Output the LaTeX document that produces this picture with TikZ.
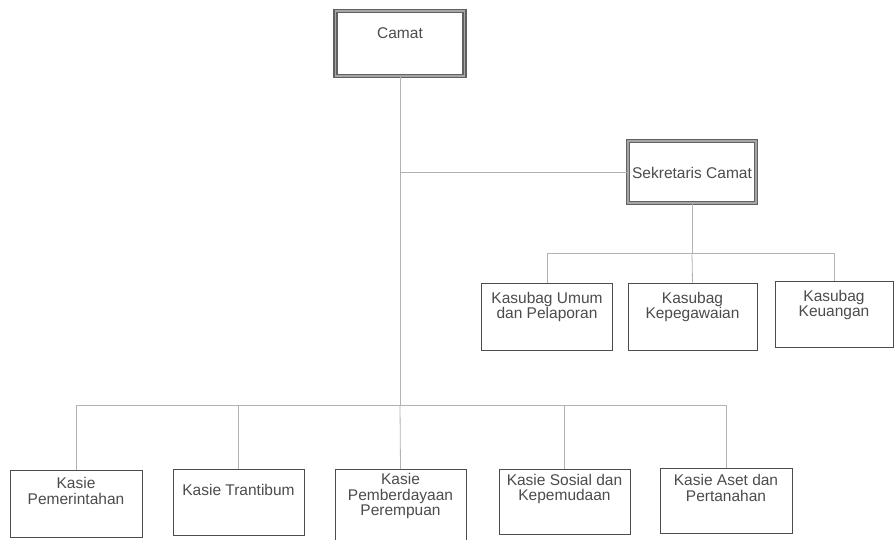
\documentclass[tikz,border=0pt]{standalone}
\usepackage{fontspec}
\setmainfont{Liberation Sans}
\begin{document}
\begin{tikzpicture}[x=1pt,y=-1pt,
  conn/.style={draw=black!30,line width=0.8pt},
  unit/.style={draw=black!70,line width=0.9pt,inner sep=0pt},
  headbox/.style={draw=black!62,line width=1.4pt,double=black!35,double distance=1.8pt,inner sep=0pt},
  txt/.style={text=black!70,align=center,inner sep=0pt,font=\fontsize{15.5}{15.5}\selectfont}]
\useasboundingbox (0,0) rectangle (894,540);
\fill[white] (0,0) rectangle (894,540);
% boxes
\node[headbox,minimum width=129,minimum height=65] (camat) at (400,43.5) {};
\node[headbox,minimum width=128,minimum height=62] (sek) at (692,172) {};
\node[unit,minimum width=131,minimum height=67] (umum) at (547,316.5) {};
\node[unit,minimum width=129,minimum height=67] (peg) at (692.5,316.5) {};
\node[unit,minimum width=118,minimum height=66] (keu) at (834,314) {};
\node[unit,minimum width=132,minimum height=67] (pem) at (76,503.5) {};
\node[unit,minimum width=131,minimum height=66] (tran) at (238.5,502) {};
\node[unit,minimum width=131,minimum height=71] (pere) at (400.5,505) {};
\node[unit,minimum width=131,minimum height=65] (sos) at (564.5,501.5) {};
\node[unit,minimum width=132,minimum height=65] (aset) at (726,500.5) {};
% texts
\node[txt] (tcamat) at (400,33) {Camat};
\node[txt] (tsek) at (692,173) {Sekretaris Camat};
\node[txt] (tumum) at (547,307) {Kasubag Umum\\dan Pelaporan};
\node[txt] (tpeg) at (692.5,307) {Kasubag\\Kepegawaian};
\node[txt] (tkeu) at (834,305) {Kasubag\\Keuangan};
\node[txt] (tpem) at (76,491) {Kasie\\Pemerintahan};
\node[txt] (ttran) at (238.5,490) {Kasie Trantibum};
\node[txt] (tpere) at (400.5,496) {Kasie\\Pemberdayaan\\Perempuan};
\node[txt] (tsos) at (564.5,489) {Kasie Sosial dan\\Kepemudaan};
\node[txt] (taset) at (726,488) {Kasie Aset dan\\Pertanahan};
% junctions
\coordinate (j1) at (400,172);
\coordinate (j2) at (400,405);
\coordinate (j3) at (692,253);
% connectors
\draw[conn] (camat.south) -- (j2);
\draw[conn] (j1) -- (sek.west);
\draw[conn] (sek.south) -- (j3);
\draw[conn] (j3) -| (umum.north);
\draw[conn] (j3) -- (peg.north);
\draw[conn] (j3) -| (keu.north);
\draw[conn] (j2) -| (pem.north);
\draw[conn] (j2) -| (tran.north);
\draw[conn] (j2) -- (pere.north);
\draw[conn] (j2) -| (sos.north);
\draw[conn] (j2) -| (aset.north);
\end{tikzpicture}
\end{document}
